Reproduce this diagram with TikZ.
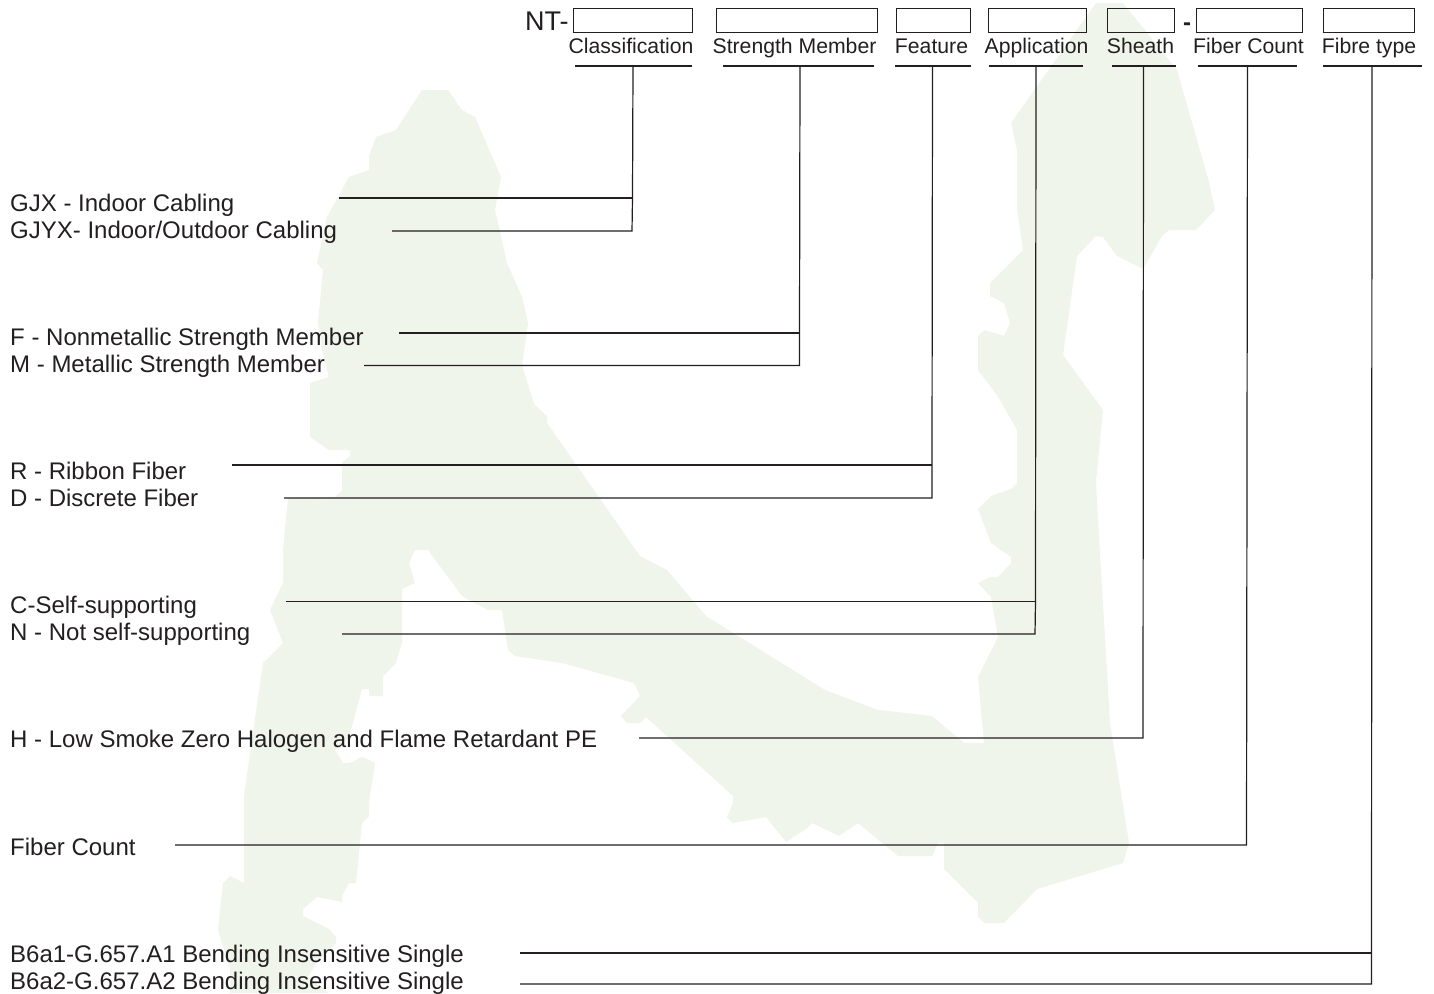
\documentclass[tikz,border=0pt]{standalone}
\usepackage{fontspec}
\setmainfont{Liberation Sans}
\definecolor{ink}{HTML}{231F20}
\definecolor{mapgreen}{HTML}{F0F5EC}
\tikzset{
  x=1pt,y=-1pt,
  mapshape/.style={fill=mapgreen,draw=none},
  slot/.style={draw=ink,line width=1.1pt,fill=none,inner sep=0pt,minimum height=24pt,anchor=north west},
  head/.style={font=\fontsize{21.2}{25}\selectfont,text=ink,anchor=base,inner sep=0pt},
  legend/.style={font=\fontsize{24}{28}\selectfont,text=ink,anchor=base west,inner sep=0pt},
  bigtext/.style={font=\fontsize{27}{30}\selectfont,text=ink,anchor=base west,inner sep=0pt},
  bar/.style={draw=ink,line width=1.4pt},
  leader/.style={draw=ink,line width=1.2pt},
}
\begin{document}
\begin{tikzpicture}
\useasboundingbox (0,0) rectangle (1434,993);
\fill[white] (0,0) rectangle (1434,993);
% background map
\path[mapshape] (422,90)--(448,90)--(462,110)--(475,117)--(501,177)--(495,210)--(507,263)--(522,297)--(528,323)--(522,365)--(534,404)--(547,416)--(547,423)--(640,556)--(667,570)--(706,616)--(825,690)--(878,710)--(932,716)--(964,743)--(984,743)--(978,677)--(998,637)--(991,597)--(978,583)--(990,577)--(998,577)--(1011,563)--(1011,557)--(991,543)--(978,509)--(991,496)--(1011,489)--(1017,483)--(1017,430)--(997,395)--(978,370)--(978,336)--(984,330)--(1004,336)--(1010,323)--(1004,303)--(990,296)--(990,283)--(1023,250)--(1017,209)--(1017,150)--(1011,123)--(1096,3)--(1123,3)--(1177,70)--(1209,182)--(1215,210)--(1196,230)--(1169,230)--(1162,236)--(1143,269)--(1117,256)--(1103,237)--(1096,236)--(1077,256)--(1063,355)--(1103,410)--(1096,482)--(1098,520)--(1110,723)--(1129,843)--(1123,863)--(1037,889)--(1004,923)--(984,923)--(978,917)--(978,903)--(944,869)--(944,843)--(938,843)--(932,856)--(898,856)--(858,823)--(839,836)--(812,823)--(806,829)--(786,842)--(766,817)--(733,823)--(727,817)--(733,803)--(733,796)--(646,717)--(640,723)--(627,723)--(621,716)--(640,696)--(634,683)--(562,663)--(515,656)--(508,650)--(502,610)--(488,610)--(462,596)--(428,550)--(415,550)--(409,563)--(415,583)--(402,589)--(402,643)--(396,663)--(383,676)--(383,696)--(369,696)--(369,689)--(362,689)--(349,737)--(335,750)--(343,763)--(350,763)--(362,757)--(375,763)--(369,802)--(369,816)--(362,823)--(356,883)--(349,883)--(342,896)--(342,902)--(317,897)--(303,909)--(303,916)--(329,929)--(336,937)--(336,943)--(315,965)--(308,977)--(329,993)--(230,993)--(230,968)--(218,930)--(223,883)--(230,876)--(244,883)--(244,796)--(263,663)--(283,643)--(270,610)--(283,583)--(283,550)--(288,498)--(335,497)--(342,490)--(342,463)--(350,456)--(350,450)--(329,450)--(310,437)--(310,383)--(329,377)--(322,350)--(318,323)--(323,270)--(317,263)--(327,217)--(349,177)--(369,170)--(369,156)--(376,137)--(396,130)--cycle;

% header boxes
\node[slot,minimum width=119pt] (bClass) at (573,8) {};
\node[slot,minimum width=161pt] (bStrength) at (716,8) {};
\node[slot,minimum width=74pt] (bFeature) at (896,8) {};
\node[slot,minimum width=98pt] (bApp) at (988,8) {};
\node[slot,minimum width=67pt] (bSheath) at (1107,8) {};
\node[slot,minimum width=106pt] (bCount) at (1196,8) {};
\node[slot,minimum width=91pt] (bType) at (1323,8) {};
\node[bigtext] (nt) at (525,30) {NT-};
\node[font=\fontsize{24}{28}\selectfont\bfseries,text=ink,anchor=base,inner sep=0pt] (dash) at (1187,30) {-};

% header labels
\node[head] (hClass) at (631,53) {Classification};
\node[head] (hStrength) at (794.5,53) {Strength Member};
\node[head] (hFeature) at (931.5,53) {Feature};
\node[head] (hApp) at (1036.5,53) {Application};
\node[head] (hSheath) at (1140.5,53) {Sheath};
\node[head] (hCount) at (1248.5,53) {Fiber Count};
\node[head] (hType) at (1369,53) {Fibre type};

% legend text
\node[legend] (t1) at (10,211) {GJX - Indoor Cabling};
\node[legend] (t2) at (10,238) {GJYX- Indoor/Outdoor Cabling};
\node[legend] (t3) at (10,345) {F - Nonmetallic Strength Member};
\node[legend] (t4) at (10,372) {M - Metallic Strength Member};
\node[legend] (t5) at (10,479) {R - Ribbon Fiber};
\node[legend] (t6) at (10,506) {D - Discrete Fiber};
\node[legend] (t7) at (10,613) {C-Self-supporting};
\node[legend] (t8) at (10,640) {N - Not self-supporting};
\node[legend] (t9) at (10,747) {H - Low Smoke Zero Halogen and Flame Retardant PE};
\node[legend] (t10) at (10,855) {Fiber Count};
\node[legend] (t11) at (10,962) {B6a1-G.657.A1 Bending Insensitive Single};
\node[legend] (t12) at (10,989) {B6a2-G.657.A2 Bending Insensitive Single};

% bars under headings
\coordinate (aClassL) at (575,66); \coordinate (aClassR) at (692,66); \coordinate (aClass) at (633,66);
\coordinate (aStrL) at (723,66); \coordinate (aStrR) at (874,66); \coordinate (aStr) at (800,66);
\coordinate (aFeaL) at (895,66); \coordinate (aFeaR) at (971,66); \coordinate (aFea) at (932.5,66);
\coordinate (aAppL) at (989,66); \coordinate (aAppR) at (1083,66); \coordinate (aApp) at (1036,66);
\coordinate (aShL) at (1112,66); \coordinate (aShR) at (1176,66); \coordinate (aSh) at (1143.5,66);
\coordinate (aCntL) at (1198,66); \coordinate (aCntR) at (1297,66); \coordinate (aCnt) at (1247.5,66);
\coordinate (aTypL) at (1323,66); \coordinate (aTypR) at (1422,66); \coordinate (aTyp) at (1372,66);
\draw[bar] (aClassL) -- (aClassR);
\draw[bar] (aStrL) -- (aStrR);
\draw[bar] (aFeaL) -- (aFeaR);
\draw[bar] (aAppL) -- (aAppR);
\draw[bar] (aShL) -- (aShR);
\draw[bar] (aCntL) -- (aCntR);
\draw[bar] (aTypL) -- (aTypR);

% free ends of the leaders
\coordinate (e1) at (339,198); \coordinate (j1) at (632.5,198);
\coordinate (e2) at (392,231); \coordinate (j2) at (632,231);
\coordinate (e3) at (399,333); \coordinate (j3) at (799.5,333);
\coordinate (e4) at (364,365.5); \coordinate (j4) at (799.5,365.5);
\coordinate (e5) at (232,465); \coordinate (j5) at (932,465);
\coordinate (e6) at (284,498); \coordinate (j6) at (932,498);
\coordinate (e7) at (286,601.5); \coordinate (j7) at (1035.5,601.5);
\coordinate (e8) at (342,634); \coordinate (j8) at (1035,634);
\coordinate (e9) at (639,738); \coordinate (j9) at (1143,738);
\coordinate (e10) at (175,845); \coordinate (j10) at (1246.5,845);
\coordinate (e11) at (520,953); \coordinate (j11) at (1371.5,953);
\coordinate (e12) at (520,984); \coordinate (j12) at (1371.5,984);

\draw[leader] (aClass) -- (j1) -- (j2) -- (e2);
\draw[leader] (e1) -- (j1);
\draw[leader] (aStr) -- (j3) -- (j4) -- (e4);
\draw[leader] (e3) -- (j3);
\draw[leader] (aFea) -- (j5) -- (j6) -- (e6);
\draw[leader] (e5) -- (j5);
\draw[leader] (aApp) -- (j7) -- (j8) -- (e8);
\draw[leader] (e7) -- (j7);
\draw[leader] (aSh) -- (j9) -- (e9);
\draw[leader] (aCnt) -- (j10) -- (e10);
\draw[leader] (aTyp) -- (j11) -- (j12) -- (e12);
\draw[leader] (e11) -- (j11);
\end{tikzpicture}
\end{document}
